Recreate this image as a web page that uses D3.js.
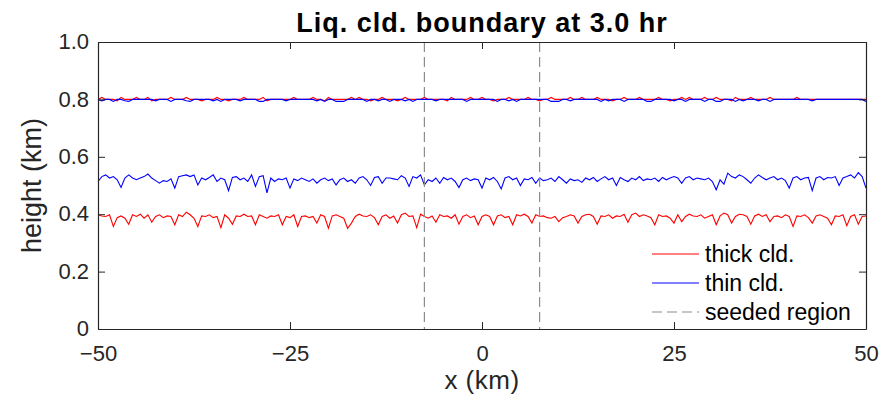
<!DOCTYPE html>
<html>
<head>
<meta charset="utf-8">
<script src="https://cdn.jsdelivr.net/npm/d3@7"></script>
<style>
  html, body { margin: 0; padding: 0; background: #fff; }
  svg { display: block; font-family: "Liberation Sans", Arial, sans-serif; }
  .axis path, .axis line { stroke: #262626; }
  .axis text { fill: #262626; font-size: 22px; }
</style>
</head>
<body>
<div class="chart-container"></div>
<script>
// x grid (km), 0.5 km spacing
const xGrid = d3.range(-50, 50.001, 0.5);

// cloud base heights (m)
const thickBase = [
  398,394,392,398,357,388,394,386,365,398, 392,400,386,398,372,392,398,388,394,392,
  363,398,392,407,398,386,357,394,392,398, 388,392,353,398,386,365,394,392,400,392,
  394,363,398,392,386,394,392,398,363,392, 388,398,357,392,394,388,392,369,398,392,
  351,394,398,392,386,351,369,392,400,394, 392,398,388,363,392,398,386,394,369,398,
  404,392,394,353,400,392,386,394,372,398, 392,394,386,398,365,392,398,388,394,363,
  392,398,392,363,394,398,388,392,363,398, 394,400,392,369,398,392,394,388,386,392,
  374,388,392,398,394,369,392,398,400,392, 365,394,392,398,386,394,392,400,372,398,
  404,392,398,394,388,363,398,392,394,386, 369,398,374,392,400,394,392,398,386,392,
  398,363,394,404,398,369,392,400,398,392, 365,394,400,392,398,374,392,394,388,398,
  392,357,394,392,398,388,369,394,398,392, 386,363,394,392,398,360,392,398,365,392,
  394
];
const thinBase = [
  514,531,537,526,531,520,493,526,537,526, 520,526,531,540,526,517,508,517,514,523,
  491,531,534,537,531,537,502,526,520,528, 537,514,526,520,482,528,531,520,526,514,
  537,497,531,534,474,526,514,523,520,526, 491,523,517,526,520,514,523,508,520,526,
  517,523,502,520,526,514,520,508,526,531, 520,500,528,531,508,526,526,523,520,534,
  526,497,531,526,537,502,520,514,526,508, 528,520,526,514,493,520,526,517,523,520,
  491,526,520,528,514,488,526,531,520,526, 500,523,520,528,508,526,517,520,526,514,
  531,520,508,523,517,520,511,526,520,528, 514,523,531,520,526,500,528,520,514,526,
  520,531,517,523,520,526,514,528,520,526, 531,526,508,526,531,520,526,523,520,526,
  514,485,520,505,543,531,526,537,531,520, 508,526,537,528,520,526,531,520,526,517,
  491,526,531,520,526,528,482,526,531,520, 528,526,531,500,526,531,537,526,545,531,
  491
];

// cloud top heights (m)
const thickTop = [
  800,807,800,800,800,795,807,800,800,800, 807,800,800,807,795,800,800,800,800,807,
  800,800,800,807,800,800,800,795,800,800, 800,807,800,800,795,800,800,800,807,800,
  800,800,800,807,795,800,800,800,800,800, 800,807,800,800,800,800,807,800,800,795,
  807,800,800,800,800,800,807,800,807,800, 800,795,800,800,807,800,800,800,795,800,
  807,800,800,800,800,807,800,800,800,800, 800,795,807,800,800,800,800,807,800,800,
  807,800,800,795,800,800,800,807,800,800, 800,800,807,800,800,795,800,800,807,800,
  800,800,800,807,800,800,807,800,800,800, 807,800,800,800,795,800,800,807,800,800,
  800,807,800,800,800,800,807,800,800,795, 800,800,807,800,807,800,800,800,807,800,
  800,807,800,800,800,795,807,800,800,800, 807,800,800,800,800,807,800,800,800,800,
  800,800,807,800,800,800,800,800,800,800, 800,800,800,800,800,800,800,800,800,800,
  800
];
const thinTop = [
  800,795,800,800,793,800,800,795,793,800, 800,800,800,800,800,795,800,800,800,793,
  800,800,800,795,793,800,800,800,800,800, 795,800,793,800,800,800,800,795,800,800,
  800,800,793,793,800,800,800,800,800,795, 800,800,800,800,800,800,800,795,800,793,
  800,800,793,793,793,800,800,800,800,800, 793,800,800,795,800,800,793,800,800,800,
  795,800,793,800,800,800,800,800,795,800, 800,800,800,800,800,800,793,800,800,800,
  800,800,800,800,793,800,800,795,800,793, 800,800,800,800,800,800,800,800,793,793,
  793,800,800,795,800,800,800,800,800,800, 800,793,800,795,800,800,800,793,800,800,
  800,800,800,793,793,800,800,800,800,800, 795,800,800,793,800,800,800,800,793,800,
  800,793,793,800,800,800,793,800,795,800, 800,800,795,800,800,793,800,800,800,800,
  800,800,800,800,800,800,795,800,800,800, 800,800,800,800,800,800,800,800,800,800,
  793
];

// seeded region edges (km)
const seededEdges = [-7.5, 7.5];

const xTicks = [-50, -25, 0, 25, 50];
const yTicks = [0, 200, 400, 600, 800, 1000];
const yTickLabels = ['0', '0.2', '0.4', '0.6', '0.8', '1.0'];

const legendNames = ['thick cld.', 'thin cld.', 'seeded region'];

const W = 893, H = 396;
const margin = { top: 42, right: 27, bottom: 67, left: 98 };
const width = W - margin.left - margin.right;
const height = H - margin.top - margin.bottom;

const svg = d3.select('.chart-container')
    .append('svg')
    .attr('width', W)
    .attr('height', H);

const g = svg.append('g')
    .attr('transform', `translate(${margin.left},${margin.top})`);

const x = d3.scaleLinear().domain([-50, 50]).range([0, width]);
const y = d3.scaleLinear().domain([0, 1000]).range([height, 0]);

const line = d3.line()
    .x((d, i) => x(xGrid[i]))
    .y(d => y(d));

// series, red first so blue sits on top
const series = [
    { vals: thickBase, color: '#ff0000' },
    { vals: thickTop, color: '#ff0000' },
    { vals: thinBase, color: '#0000ff' },
    { vals: thinTop, color: '#0000ff' }
];

g.selectAll('.series')
    .data(series)
    .enter().append('path')
    .attr('class', 'series')
    .attr('d', d => line(d.vals))
    .attr('fill', 'none')
    .attr('stroke', d => d.color)
    .attr('stroke-width', 1.1);

// seeded region lines
g.selectAll('.seed')
    .data(seededEdges)
    .enter().append('line')
    .attr('class', 'seed')
    .attr('x1', d => x(d)).attr('x2', d => x(d))
    .attr('y1', 0).attr('y2', height)
    .attr('stroke', '#8c8c8c')
    .attr('stroke-width', 1.2)
    .attr('stroke-dasharray', '10,5');

// axes: ticks inside, box all around
const tickLen = 7;
const fmtY = d => yTickLabels[yTicks.indexOf(d)];

const xAxis = g.append('g')
    .attr('class', 'axis')
    .attr('transform', `translate(0,${height})`)
    .call(d3.axisBottom(x).tickValues(xTicks).tickSizeInner(-tickLen).tickSizeOuter(0).tickPadding(16)
        .tickFormat(d => d < 0 ? '\u2212' + Math.abs(d) : d));
xAxis.selectAll('text').attr('dy', '0.71em');

const yAxis = g.append('g')
    .attr('class', 'axis')
    .call(d3.axisLeft(y).tickValues(yTicks).tickSizeInner(-tickLen).tickSizeOuter(0).tickPadding(9)
        .tickFormat(fmtY));
yAxis.selectAll('text').attr('dy', '0.3em');

g.append('g')
    .attr('class', 'axis')
    .call(d3.axisTop(x).tickValues(xTicks).tickSizeInner(-tickLen).tickSizeOuter(0).tickFormat(''));

g.append('g')
    .attr('class', 'axis')
    .attr('transform', `translate(${width},0)`)
    .call(d3.axisRight(y).tickValues(yTicks).tickSizeInner(-tickLen).tickSizeOuter(0).tickFormat(''));

g.selectAll('.axis path.domain').attr('stroke-width', 1.2);

// title and labels
svg.append('text')
    .attr('x', margin.left + width / 2)
    .attr('y', 32)
    .attr('text-anchor', 'middle')
    .attr('font-size', '27px')
    .attr('font-weight', 'bold')
    .attr('letter-spacing', '1px')
    .attr('fill', '#000')
    .text('Liq. cld. boundary at 3.0 hr');

svg.append('text')
    .attr('x', margin.left + width / 2)
    .attr('y', 389)
    .attr('text-anchor', 'middle')
    .attr('font-size', '26px')
    .attr('letter-spacing', '0.5px')
    .attr('fill', '#262626')
    .text('x (km)');

svg.append('text')
    .attr('transform', `translate(41,${margin.top + height / 2}) rotate(-90)`)
    .attr('text-anchor', 'middle')
    .attr('font-size', '27px')
    .attr('fill', '#262626')
    .text('height (km)');

// legend (no box)
const legendStyle = [
    { color: '#ff0000', dash: null },
    { color: '#0000ff', dash: null },
    { color: '#8c8c8c', dash: '10,5' }
];
const legend = svg.append('g').attr('transform', 'translate(652,254)');
const items = legend.selectAll('.item')
    .data(legendNames)
    .enter().append('g')
    .attr('class', 'item')
    .attr('transform', (d, i) => `translate(0,${i * 29})`);
items.append('line')
    .attr('x1', 0).attr('x2', 47)
    .attr('stroke', (d, i) => legendStyle[i].color)
    .attr('stroke-width', (d, i) => i === 2 ? 1.2 : 1)
    .attr('stroke-dasharray', (d, i) => legendStyle[i].dash);
items.append('text')
    .attr('x', 53)
    .attr('y', 8)
    .attr('font-size', '23px')
    .attr('fill', '#000')
    .text(d => d);
</script>
</body>
</html>
